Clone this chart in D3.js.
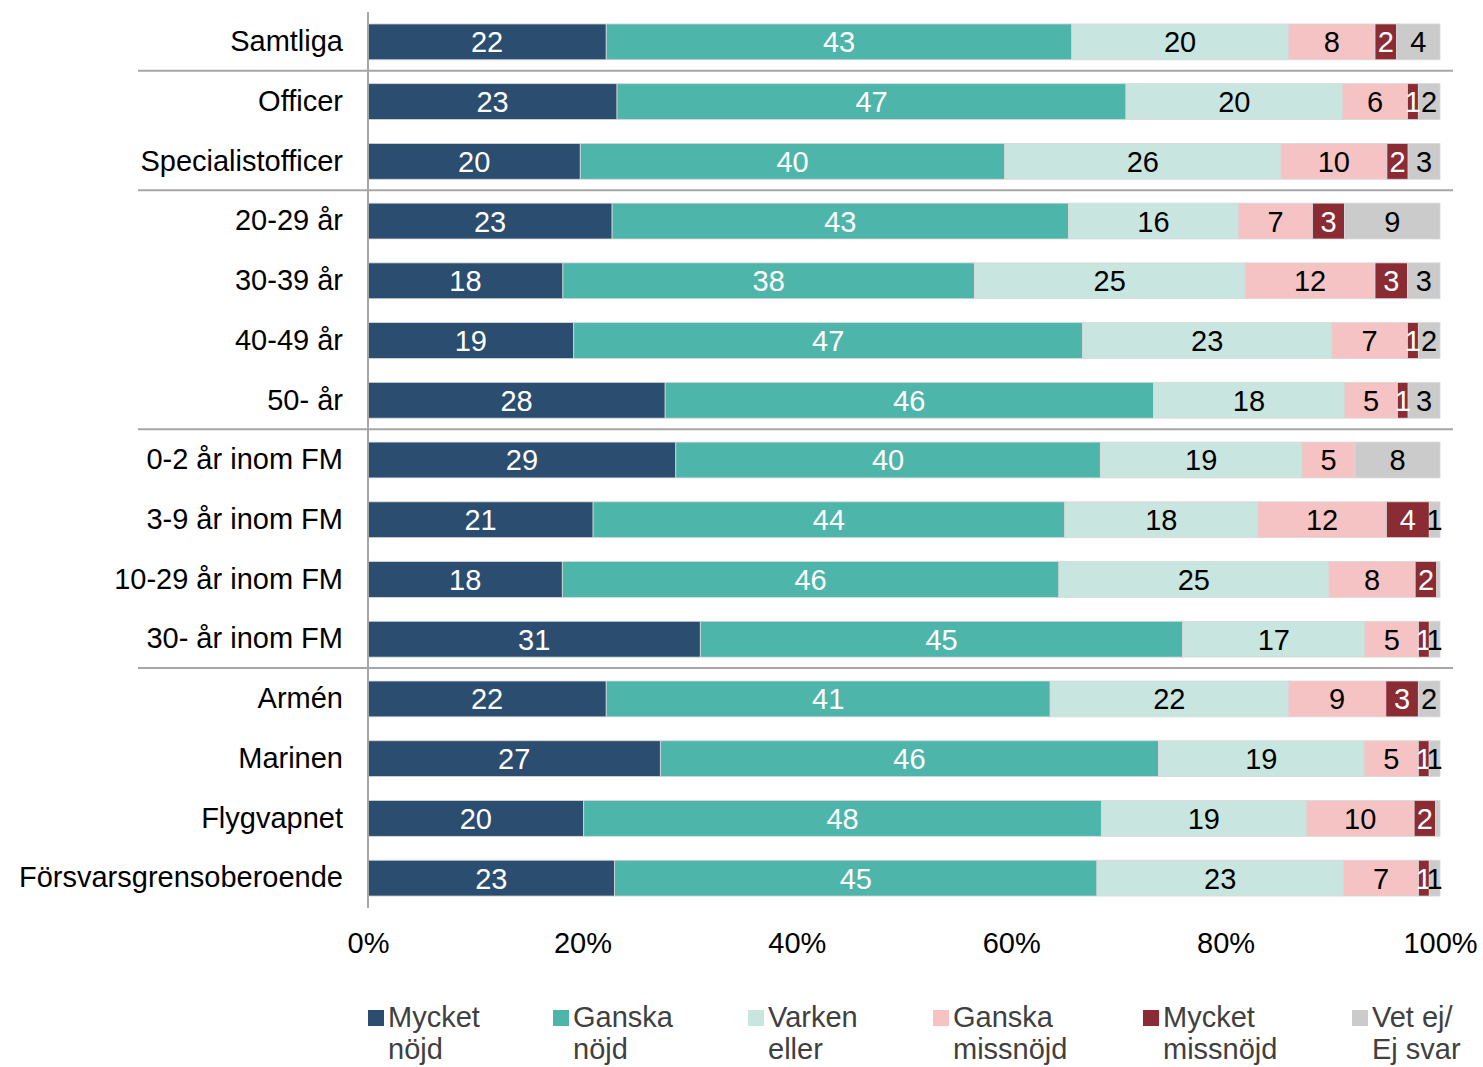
<!DOCTYPE html>
<html>
<head>
<meta charset="utf-8">
<script src="https://cdn.jsdelivr.net/npm/d3@7"></script>
<style>
  html, body { margin: 0; padding: 0; background: #fff; }
  svg { display: block; font-family: "Liberation Sans", Arial, sans-serif; }
</style>
</head>
<body>
<svg id="chart" width="1483" height="1067"></svg>
<script>
// Survey groups (top to bottom)
const categories = [
  "Samtliga",
  "Officer", "Specialistofficer",
  "20-29 år", "30-39 år", "40-49 år", "50- år",
  "0-2 år inom FM", "3-9 år inom FM", "10-29 år inom FM", "30- år inom FM",
  "Armén", "Marinen", "Flygvapnet", "Försvarsgrensoberoende"
];

// Answer options and their colours
const seriesNames = ["Mycket nöjd", "Ganska nöjd", "Varken eller", "Ganska missnöjd", "Mycket missnöjd", "Vet ej/ Ej svar"];
const legendLines = [["Mycket", "nöjd"], ["Ganska", "nöjd"], ["Varken", "eller"], ["Ganska", "missnöjd"], ["Mycket", "missnöjd"], ["Vet ej/", "Ej svar"]];
const seriesColors = ["#2b4e70", "#4eb5ab", "#c9e5df", "#f5c3c3", "#8b2b33", "#cbcbcb"];
const labelColors = ["#ffffff", "#ffffff", "#000000", "#000000", "#ffffff", "#000000"];

// Percent shares per answer option, one value per group
const mycketNojd     = [22, 23, 20, 23, 18, 19, 28, 29, 21, 18, 31, 22, 27, 20, 23];
const ganskaNojd     = [43, 47, 40, 43, 38, 47, 46, 40, 44, 46, 45, 41, 46, 48, 45];
const varkenEller    = [20, 20, 26, 16, 25, 23, 18, 19, 18, 25, 17, 22, 19, 19, 23];
const ganskaMissnojd = [ 8,  6, 10,  7, 12,  7,  5,  5, 12,  8,  5,  9,  5, 10,  7];
const mycketMissnojd = [ 2,  1,  2,  3,  3,  1,  1,  0,  4,  2,  1,  3,  1,  2,  1];
const vetEj          = [ 4,  2,  3,  9,  3,  2,  3,  8,  1, 0.3, 1,  2,  1, 0.4, 1];

const xTicks = [0, 0.2, 0.4, 0.6, 0.8, 1];
// Group breaks: a rule is drawn after these row indices
const groupBreaksAfter = [0, 2, 6, 10];

const seriesValues = [mycketNojd, ganskaNojd, varkenEller, ganskaMissnojd, mycketMissnojd, vetEj];

const svg = d3.select("#chart");
const plotLeft = 368, plotRight = 1440, plotTop = 12, plotBottom = 908;

const x = d3.scaleLinear().domain([0, 1]).range([plotLeft, plotRight]);
const y = d3.scaleBand().domain(categories).range([plotTop, plotBottom]).paddingInner(0.4).paddingOuter(0.2);

// Build normalised stacks (each row fills 100%)
const rows = categories.map((cat, i) => {
  const vals = seriesValues.map(s => s[i]);
  const total = d3.sum(vals);
  let acc = 0;
  return vals.map((v, k) => {
    const seg = { cat, k, value: v, x0: acc / total, x1: (acc + v) / total };
    acc += v;
    return seg;
  });
});

const fontSize = 29;

// Bars
const barG = svg.append("g");
rows.forEach(segs => {
  segs.filter(s => s.value > 0).forEach(s => {
    barG.append("rect")
      .attr("x", x(s.x0))
      .attr("y", y(s.cat))
      .attr("width", x(s.x1) - x(s.x0))
      .attr("height", y.bandwidth())
      .attr("fill", seriesColors[s.k])
      .attr("stroke", "#d8d8d8")
      .attr("stroke-width", 0.8);
  });
});

// Value labels
const labG = svg.append("g").attr("font-size", fontSize).attr("text-anchor", "middle");
rows.forEach(segs => {
  segs.filter(s => s.value >= 0.5).forEach(s => {
    labG.append("text")
      .attr("x", (x(s.x0) + x(s.x1)) / 2)
      .attr("y", y(s.cat) + y.bandwidth() / 2)
      .attr("dy", "0.36em")
      .attr("fill", labelColors[s.k])
      .text(d3.format("d")(s.value));
  });
});

// Category axis (left)
const yAxis = svg.append("g")
  .attr("transform", `translate(${plotLeft},0)`)
  .call(d3.axisLeft(y).tickSize(0).tickPadding(25));
yAxis.select(".domain").remove();
yAxis.selectAll("text").attr("font-size", fontSize).attr("fill", "#000").attr("font-family", "Liberation Sans, Arial, sans-serif");

// Vertical axis line
svg.append("line")
  .attr("x1", plotLeft).attr("x2", plotLeft)
  .attr("y1", plotTop).attr("y2", plotBottom)
  .attr("stroke", "#a6a6a6").attr("stroke-width", 2);

// Group separator rules
const step = y.step();
groupBreaksAfter.forEach(i => {
  const yy = y(categories[i]) + y.bandwidth() + (step - y.bandwidth()) / 2 - 1;
  svg.append("line")
    .attr("x1", 138).attr("x2", 1453)
    .attr("y1", yy).attr("y2", yy)
    .attr("stroke", "#a6a6a6").attr("stroke-width", 2);
});

// Percent axis (bottom)
const xAxis = svg.append("g")
  .attr("transform", `translate(0,${plotBottom})`)
  .call(d3.axisBottom(x).tickValues(xTicks).tickFormat(d3.format(".0%")).tickSize(0).tickPadding(24));
xAxis.select(".domain").remove();
xAxis.selectAll("text").attr("font-size", fontSize).attr("fill", "#000").attr("font-family", "Liberation Sans, Arial, sans-serif");

// Legend
const legendX = [368, 553, 748, 933, 1143, 1352];
const legend = svg.append("g").attr("font-size", fontSize).attr("fill", "#404040");
seriesNames.forEach((name, k) => {
  const g = legend.append("g").attr("transform", `translate(${legendX[k]},0)`);
  g.append("rect").attr("x", 0).attr("y", 1010).attr("width", 16).attr("height", 16).attr("fill", seriesColors[k]);
  legendLines[k].forEach((line, j) => {
    g.append("text").attr("x", 20).attr("y", 1027 + j * 32).text(line);
  });
});
</script>
</body>
</html>
